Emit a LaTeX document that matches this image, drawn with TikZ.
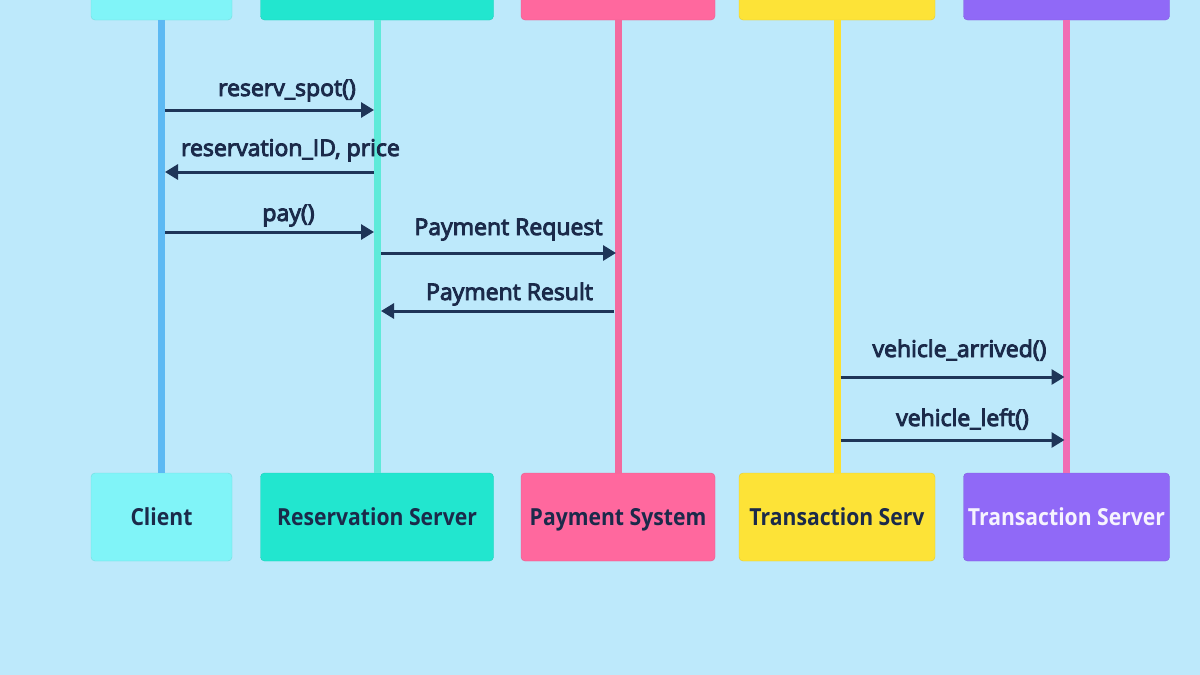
\documentclass[tikz,border=0pt]{standalone}
\usepackage{fontspec}
\setmainfont{Open Sans}
\newfontfamily\labfont[FakeBold=4]{Open Sans}
\usetikzlibrary{arrows.meta}
\definecolor{bg}{HTML}{BDE9FB}
\definecolor{navy}{HTML}{1E3558}
\definecolor{txt}{HTML}{1B2A4A}
\definecolor{cC}{HTML}{80F4F8}
\definecolor{cR}{HTML}{22E6CF}
\definecolor{cP}{HTML}{FF689E}
\definecolor{cT}{HTML}{FDE337}
\definecolor{cS}{HTML}{9069F7}
\definecolor{lC}{HTML}{5CB9F3}
\definecolor{lR}{HTML}{5EEAD9}
\definecolor{lP}{HTML}{F36A9F}
\definecolor{lT}{HTML}{FDE12E}
\definecolor{lS}{HTML}{F06DB4}
\newcommand{\boxlab}[1]{\scalebox{0.9}[1]{#1}}
\tikzset{
  actor/.style={rounded corners=4pt, minimum height=88pt, inner sep=0pt, text height=16.5pt, text depth=0pt, font=\fontsize{23.5}{27}\selectfont\bfseries},
  life/.style={line width=7pt},
  msg/.style={draw=navy, line width=3pt, -{Triangle[length=13pt,width=15pt]}},
  lab/.style={text=txt, font=\fontsize{23}{27}\selectfont\labfont, inner sep=0pt, anchor=base}
}
\begin{document}
\begin{tikzpicture}[x=1pt,y=-1pt]
\useasboundingbox (0,0) rectangle (1200,675);
\clip (0,0) rectangle (1200,675);
\fill[bg] (0,0) rectangle (1200,675);
% top boxes
\node[actor, fill=cC, draw=cC!90!black, minimum width=141pt] (tC) at (161.5,-24) {};
\node[actor, fill=cR, draw=cR!90!black, minimum width=233pt] (tR) at (377,-24) {};
\node[actor, fill=cP, draw=cP!90!black, minimum width=194pt] (tP) at (618,-24) {};
\node[actor, fill=cT, draw=cT!90!black, minimum width=196pt] (tT) at (837,-24) {};
\node[actor, fill=cS, draw=cS!90!black, minimum width=206pt] (tS) at (1066.5,-24) {};
% bottom boxes
\node[actor, fill=cC, draw=cC!90!black, minimum width=141pt, text=txt] (bC) at (161.5,517) {\boxlab{Client}};
\node[actor, fill=cR, draw=cR!90!black, minimum width=233pt, text=txt] (bR) at (377,517) {\boxlab{Reservation Server}};
\node[actor, fill=cP, draw=cP!90!black, minimum width=194pt, text=txt] (bP) at (618,517) {\boxlab{Payment System}};
\node[actor, fill=cT, draw=cT!90!black, minimum width=196pt, text=txt] (bT) at (837,517) {\boxlab{Transaction Serv}};
\node[actor, fill=cS, draw=cS!90!black, minimum width=206pt, text=white!92!cS] (bS) at (1066.5,517) {\boxlab{Transaction Server}};
% lifelines
\draw[life, lC] (tC.south) -- (bC.north);
\draw[life, lR] (tR.south) -- (bR.north);
\draw[life, lP] (tP.south) -- (bP.north);
\draw[life, lT] (tT.south) -- (bT.north);
\draw[life, lS] (tS.south) -- (bS.north);
% message levels
\coordinate (y1) at (0,110);
\coordinate (y2) at (0,172);
\coordinate (y3) at (0,232);
\coordinate (y4) at (0,253);
\coordinate (y5) at (0,311);
\coordinate (y6) at (0,377);
\coordinate (y7) at (0,440);
% messages
\draw[msg, shorten <=3.5pt, shorten >=3pt] (tC.south |- y1) -- (tR.south |- y1);
\draw[msg, shorten <=3pt, shorten >=3.5pt] (tR.south |- y2) -- (tC.south |- y2);
\draw[msg, shorten <=3.5pt, shorten >=3pt] (tC.south |- y3) -- (tR.south |- y3);
\draw[msg, shorten <=4pt, shorten >=2pt] (tR.south |- y4) -- (tP.south |- y4);
\draw[msg, shorten <=4pt, shorten >=4pt] (tP.south |- y5) -- (tR.south |- y5);
\draw[msg, shorten <=3.5pt, shorten >=2pt] (tT.south |- y6) -- (tS.south |- y6);
\draw[msg, shorten <=3.5pt, shorten >=2pt] (tT.south |- y7) -- (tS.south |- y7);
% labels
\node[lab] (m1) at (287,96) {reserv\_spot()};
\node[lab] (m2) at (290.5,156) {reservation\_ID, price};
\node[lab] (m3) at (288.5,221) {pay()};
\node[lab] (m4) at (508.5,235) {Payment Request};
\node[lab] (m5) at (509.5,300) {Payment Result};
\node[lab] (m6) at (959.5,357) {vehicle\_arrived()};
\node[lab] (m7) at (962.5,426) {vehicle\_left()};
\end{tikzpicture}
\end{document}
